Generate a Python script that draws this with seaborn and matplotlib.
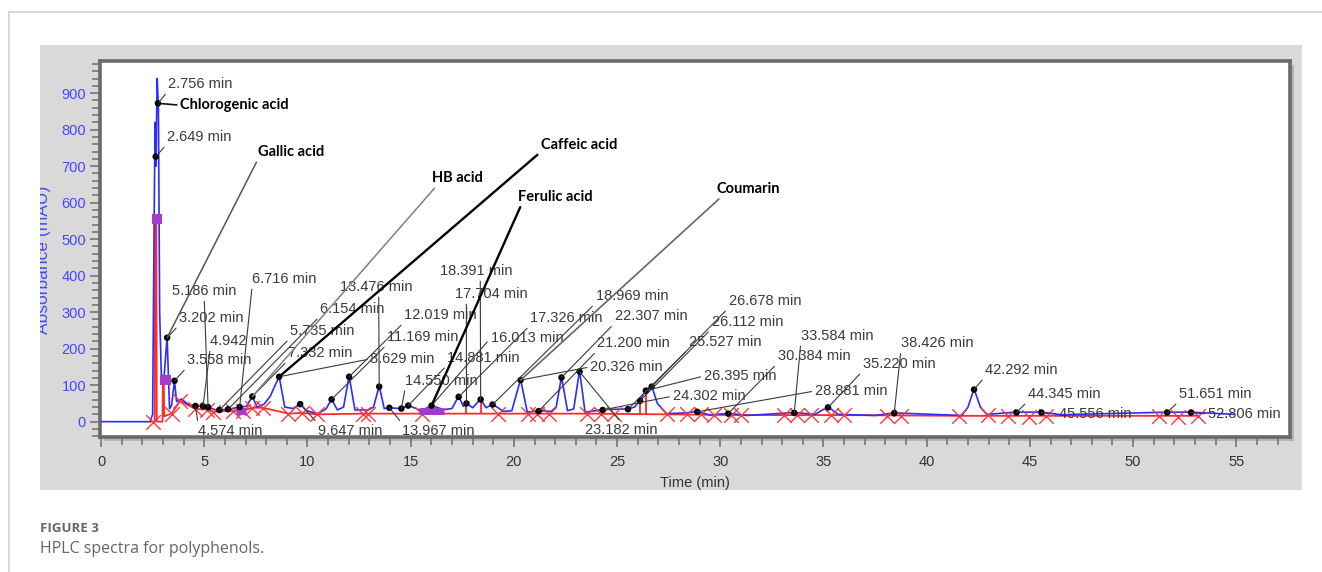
import matplotlib
matplotlib.use("Agg")
import matplotlib.pyplot as plt
from matplotlib.patches import Rectangle
from matplotlib.lines import Line2D
from matplotlib.ticker import MultipleLocator
import seaborn as sns
import pandas as pd

# ---------------- data ----------------
# blue chromatogram trace (time in min, absorbance in mAU)
blue_t = [0, 2.38, 2.50, 2.58, 2.62, 2.66, 2.72, 2.78, 2.84, 2.92, 3.05, 3.2, 3.32, 3.42, 3.558, 3.66,
          3.9, 4.2, 4.574, 4.942, 5.186, 5.5, 5.735, 6.154, 6.716, 7.05, 7.332, 7.55, 7.9, 8.2, 8.629,
          8.9, 9.3, 9.647, 9.95, 10.5, 10.9, 11.169, 11.45, 11.75, 12.019, 12.3, 12.95, 13.2, 13.476,
          13.72, 13.967, 14.55, 14.881, 15.5, 16.013, 16.6, 17.0, 17.326, 17.55, 17.704, 18.0, 18.391,
          18.65, 18.969, 19.5, 19.9, 20.326, 20.65, 21.2, 21.8, 22.05, 22.307, 22.6, 22.9, 23.182,
          23.45, 24.302, 25.527, 25.85, 26.112, 26.395, 26.678, 26.95, 27.4, 28.3, 28.881, 29.5,
          30.384, 31.3, 33.584, 34.6, 35.22, 35.7, 37.5, 38.426, 41.7, 42.0, 42.292, 42.6, 42.9,
          44.345, 45.556, 46.5, 51.651, 52.806, 54.9]
blue_y = [0, 0, 20, 600, 820, 700, 940, 860, 300, 130, 120, 232, 35, 45, 112, 55,
          62, 48, 43, 42, 40, 33, 32, 34, 40, 42, 70, 40, 48, 70, 124,
          40, 36, 49, 30, 22, 35, 62, 32, 40, 125, 32, 32, 40, 98,
          36, 38, 36, 45, 30, 44, 33, 36, 70, 42, 51, 38, 62,
          38, 48, 28, 30, 116, 26, 30, 28, 40, 123, 30, 35, 140,
          26, 33, 35, 40, 58, 87, 98, 50, 22, 24, 28, 18,
          23, 17, 25, 20, 41, 20, 17, 24, 17, 40, 90, 40, 20,
          26, 26, 19, 26, 26, 20]

# red integration baseline trace
red_t = [2.40, 2.60, 2.62, 2.68, 2.70, 2.98, 3.00, 3.04, 3.06, 3.42, 3.83, 4.56, 5.12, 5.43, 6.4, 6.89,
         7.3, 7.86, 9.07, 9.73, 10.46, 12.7, 12.95, 15.55, 19.25, 21.68, 23.55, 27.43, 31.0, 36.0,
         41.56, 45.78, 53.13]
red_y = [0, 0, 555, 555, 0, 0, 120, 120, 15, 22, 57, 35, 33, 27, 30, 30,
         38, 38, 22, 24, 20, 22, 22, 22, 22, 22, 22, 20, 18, 18,
         16, 16, 16]

# red baseline cross markers
cross_t = [2.52, 3.42, 3.83, 4.56, 5.12, 5.43, 6.4, 6.89, 7.3, 7.86, 9.07, 9.73, 10.46, 12.7, 12.95,
           15.55, 19.25, 20.7, 21.13, 21.68, 23.55, 24.2, 24.83, 27.43, 28.4, 29.05, 29.7, 30.5, 31.0,
           33.1, 33.74, 34.4, 35.35, 36.0, 38.1, 38.75, 41.56, 42.95, 43.92, 44.96, 45.78, 51.26,
           52.17, 53.13]
cross_y = [0, 22, 57, 35, 33, 27, 30, 30, 38, 38, 22, 24, 20, 22, 22,
           22, 22, 22, 22, 22, 22, 22, 22, 20, 20, 20, 18, 18, 18,
           18, 18, 18, 18, 18, 16, 16, 16, 18, 16, 14, 16, 16,
           14, 16]

# red drop lines at peak boundaries
drop_t = [17.704, 18.391, 26.112, 26.395]
drop_top = [51, 62, 58, 87]
drop_base = [22, 22, 22, 22]

# purple markers / bars
purple_t = [2.72, 3.12]
purple_y = [555, 115]
pbar_start = [6.55, 15.4]
pbar_end = [7.0, 16.6]
pbar_y = [30, 28]

# labelled peaks: retention time, absorbance at marker
peak_rt = [2.649, 2.756, 3.202, 3.558, 4.574, 4.942, 5.186, 5.735, 6.154, 6.716, 7.332, 8.629, 9.647,
           11.169, 12.019, 13.476, 13.967, 14.550, 14.881, 16.013, 17.326, 17.704, 18.391, 18.969,
           20.326, 21.200, 22.307, 23.182, 24.302, 25.527, 26.112, 26.395, 26.678, 28.881, 30.384,
           33.584, 35.220, 38.426, 42.292, 44.345, 45.556, 51.651, 52.806]
peak_y = [726, 872, 230, 112, 43, 42, 40, 32, 34, 40, 69, 123, 48,
          61, 123, 96, 38, 36, 44, 44, 68, 50, 61, 47,
          114, 29, 121, 137, 32, 34, 57, 85, 96, 27, 22,
          24, 39, 23, 88, 25, 25, 25, 25]

# label placement (layout) for each peak label, in data units
label_x = [3.2, 3.25, 3.78, 4.17, 4.7, 5.29, 3.44, 9.17, 10.62, 7.32, 9.07, 13.05, 10.52,
           13.87, 14.69, 11.59, 14.6, 14.74, 16.78, 18.87, 20.8, 17.17, 16.44, 23.96,
           23.7, 24.05, 24.88, 23.47, 27.69, 28.47, 29.58, 29.2, 30.4, 34.58, 32.78,
           33.9, 36.9, 38.75, 42.82, 44.91, 46.41, 52.23, 53.64]
label_y = [780, 925, 284, 169, -25, 221, 358, 249, 309, 391, 188, 172, -25,
           232, 292, 369, -25, 112, 175, 229, 284, 350, 413, 344,
           150, 215, 289, -23, 70, 219, 274, 125, 331, 84, 180,
           235, 158, 215, 142, 76, 21, 76, 21]
label_rel = {4.574: (0.0, 1.0), 9.647: (0.0, 1.0), 13.967: (0.0, 1.0), 23.182: (0.5, 1.0),
             5.186: (0.5, 0.0), 13.476: (0.53, 0.0), 18.391: (0.55, 0.0), 17.704: (0.15, 0.0),
             45.556: (0.0, 0.5), 52.806: (0.0, 0.5), 8.629: (0.0, 0.5), 20.326: (0.0, 0.5),
             24.302: (0.0, 0.5), 26.395: (0.0, 0.5), 28.881: (0.0, 0.5), 16.013: (0.0, 0.5)}

# compound identifications
compounds = ["Chlorogenic acid", "Gallic acid", "HB acid", "Caffeic acid", "Ferulic acid", "Coumarin"]
compound_rt = [2.756, 3.202, 7.332, 8.629, 16.013, 20.326]
compound_x = [3.83, 7.61, 16.05, 21.3, 20.2, 29.8]
compound_y = [867, 739, 668, 758, 616, 638]
compound_rel = [(0.0, 0.5), (0.0, 0.0), (0.1, 0.0), (0.0, 0.0), (0.05, 0.0), (0.1, 0.0)]
compound_lc = ["#111111", "#555555", "#808080", "#000000", "#000000", "#666666"]
compound_lw = [1.2, 1.1, 1.1, 1.7, 1.7, 1.2]

x_ticks = list(range(0, 56, 5))
y_ticks = list(range(0, 1000, 100))

# ---------------- figure ----------------
W, H = 1322, 572
sns.set_style("white")
plt.rcParams["font.family"] = ["Liberation Sans", "DejaVu Sans"]

fig = plt.figure(figsize=(W / 100, H / 100), dpi=100, facecolor="white")

gray = Rectangle((40 / W, 1 - 490 / H), 1262 / W, 445 / H, transform=fig.transFigure,
                 facecolor="#d9d9d9", edgecolor="none", zorder=-2)
fig.patches.append(gray)
shadow = Rectangle((104 / W, 1 - 441 / H), 1190 / W, 376 / H, transform=fig.transFigure,
                   facecolor="#b4b4b4", edgecolor="none", zorder=-1)
fig.patches.append(shadow)
fig.add_artist(Line2D([9 / W, 9 / W], [0, 1 - 12 / H], transform=fig.transFigure, color="#d2d2d2", lw=1.2))
fig.add_artist(Line2D([9 / W, 1], [1 - 12 / H, 1 - 12 / H], transform=fig.transFigure, color="#d2d2d2", lw=1.2))

ax = fig.add_axes([100 / W, 1 - 437 / H, 1190 / W, 376 / H])
ax.set_facecolor("white")

blue_df = pd.DataFrame({"t": blue_t, "y": blue_y})
red_df = pd.DataFrame({"t": red_t, "y": red_y})
sns.lineplot(data=red_df, x="t", y="y", sort=False, estimator=None, color="#ff2a2a", lw=1.3, ax=ax, zorder=2)
ax.vlines(drop_t, drop_base, drop_top, color="#ff2a2a", lw=1.3, zorder=2)
sns.lineplot(data=blue_df, x="t", y="y", sort=False, estimator=None, color="#2c2cff", lw=1.2, ax=ax, zorder=3)
sns.scatterplot(x=cross_t, y=cross_y, marker="x", s=110, color="#ff3838", linewidth=1.0, ax=ax, zorder=4)
ax.hlines(pbar_y, pbar_start, pbar_end, color="#a33bd0", lw=5, zorder=4)
sns.scatterplot(x=purple_t, y=purple_y, marker="s", s=55, color="#a33bd0", edgecolor="none", ax=ax, zorder=5)
sns.scatterplot(x=peak_rt, y=peak_y, marker="o", s=22, color="black", edgecolor="none", ax=ax, zorder=6)

for rt, py, lx, ly in zip(peak_rt, peak_y, label_x, label_y):
    ax.annotate(f"{rt:.3f} min", xy=(rt, py), xytext=(lx, ly), textcoords="data",
                ha="left", va="center", fontsize=10.5, color="#3a3a3a", zorder=7,
                arrowprops=dict(arrowstyle="-", color="#3a3a3a", lw=0.8, shrinkA=0, shrinkB=0,
                                relpos=label_rel.get(rt, (0.0, 0.0))))

for name, rt, cx, cy, rel, lc, lw in zip(compounds, compound_rt, compound_x, compound_y,
                                         compound_rel, compound_lc, compound_lw):
    py = peak_y[peak_rt.index(rt)]
    ax.annotate(name, xy=(rt, py), xytext=(cx, cy), textcoords="data", ha="left", va="center",
                fontsize=10.5, fontweight="bold", family=["Lato", "DejaVu Sans"], color="black", zorder=8,
                arrowprops=dict(arrowstyle="-", color=lc, lw=lw, shrinkA=0, shrinkB=0, relpos=rel))

ax.set_xlim(-0.05, 57.6)
ax.set_ylim(-42, 988)
ax.set_xticks(x_ticks)
ax.set_yticks(y_ticks)
ax.xaxis.set_minor_locator(MultipleLocator(1))
ax.yaxis.set_minor_locator(MultipleLocator(20))
ax.tick_params(which="both", direction="out", length=7, width=1.3, color="#7c7c7c")
ax.tick_params(axis="y", which="major", labelcolor="#4646ff", labelsize=10.5, pad=3)
ax.tick_params(axis="x", which="major", labelcolor="#333333", labelsize=10.5, pad=6)
ax.tick_params(which="minor", length=6)
ax.tick_params(axis="both", which="both", left=True, bottom=True)
for sp in ax.spines.values():
    sp.set_color("#6a6a6a")
    sp.set_linewidth(2.6)
ax.set_xlabel("Time (min)", fontsize=10.5, color="#333333", labelpad=5)
ax.set_ylabel("")

ylab = fig.text(44 / W, 1 - 260 / H, "Absorbance (mAU)", rotation=90, ha="center", va="center",
                fontsize=12.5, color="#4646ff")
ylab.set_clip_path(gray)

fig.text(40 / W, 1 - 528 / H, "FIGURE 3", fontsize=9.5, fontweight="bold", color="#666666",
         family=["Open Sans", "DejaVu Sans"], ha="left", va="center")
fig.text(40 / W, 1 - 549 / H, "HPLC spectra for polyphenols.", fontsize=11.5, color="#666666",
         family=["Open Sans", "DejaVu Sans"], ha="left", va="center")

fig.savefig("out.png", dpi=100, facecolor="white")
